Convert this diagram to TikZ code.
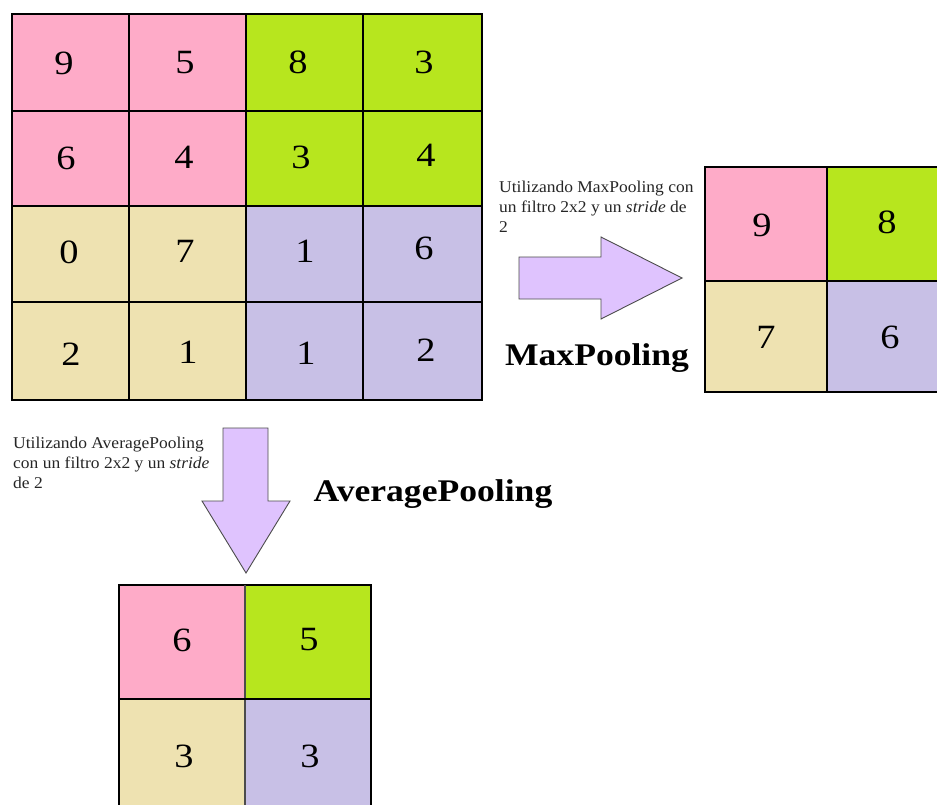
\documentclass[tikz,border=0pt]{standalone}
\usepackage{fontspec}
\setmainfont[FakeStretch=1.13]{Liberation Serif}
\newfontfamily\notefont[FakeStretch=1.06]{Liberation Serif}
\begin{document}
\begin{tikzpicture}[x=1pt,y=-1pt,
  num/.style={font=\fontsize{34}{34}\selectfont, inner sep=0pt},
  note/.style={font=\notefont\fontsize{16.5}{19.8}\selectfont, align=left, anchor=north west, inner sep=0pt, text=black!85},
  title/.style={font=\fontsize{31.5}{31.5}\selectfont\bfseries, inner sep=0pt},
  bigarrow/.style={fill=arrowfill, draw=black!70, line width=0.9pt, line join=miter}]
\definecolor{cpink}{HTML}{FEABC8}
\definecolor{cgreen}{HTML}{B7E61E}
\definecolor{ctan}{HTML}{EEE2B1}
\definecolor{clav}{HTML}{C8C0E6}
\definecolor{arrowfill}{HTML}{DFC3FE}
\useasboundingbox (0,0) rectangle (937,805);
\fill[white] (0,0) rectangle (937,805);

% ---- input feature map 4x4 ----
\fill[cpink]  (12,14)  rectangle (246,206);
\fill[cgreen] (246,14) rectangle (482,206);
\fill[ctan]   (12,206) rectangle (246,400);
\fill[clav]   (246,206) rectangle (482,400);
\draw[line width=2.2pt] (12,14) rectangle (482,400);
\foreach \x in {129,246,363} \draw[line width=2pt] (\x,14) -- (\x,400);
\foreach \y in {111,206,302} \draw[line width=2pt] (12,\y) -- (482,\y);

\node[num] (a11) at (64,63)  {9};
\node[num] (a12) at (185,63) {5};
\node[num] (a13) at (298,62) {8};
\node[num] (a14) at (424,62) {3};
\node[num] (a21) at (66,158) {6};
\node[num] (a22) at (184,157){4};
\node[num] (a23) at (301,157){3};
\node[num] (a24) at (426,155){4};
\node[num] (a31) at (69,252) {0};
\node[num] (a32) at (185,251){7};
\node[num] (a33) at (305,251){1};
\node[num] (a34) at (424,248){6};
\node[num] (a41) at (71,354) {2};
\node[num] (a42) at (188,352){1};
\node[num] (a43) at (306,353){1};
\node[num] (a44) at (426,350){2};

% ---- max pooling result ----
\fill[cpink]  (705,167) rectangle (827,281);
\fill[cgreen] (827,167) rectangle (945,281);
\fill[ctan]   (705,281) rectangle (827,392);
\fill[clav]   (827,281) rectangle (945,392);
\draw[line width=1.8pt] (945,167) -- (705,167) -- (705,392) -- (945,392);
\draw[line width=1.8pt] (827,167) -- (827,392);
\draw[line width=1.8pt] (705,281) -- (945,281);
\node[num] (m11) at (762,225) {9};
\node[num] (m12) at (887,222) {8};
\node[num] (m21) at (766,337) {7};
\node[num] (m22) at (890,337) {6};

% ---- average pooling result ----
\fill[cpink]  (119,585) rectangle (245,699);
\fill[cgreen] (245,585) rectangle (371,699);
\fill[ctan]   (119,699) rectangle (245,810);
\fill[clav]   (245,699) rectangle (371,810);
\draw[line width=1.6pt] (119,810) -- (119,585) -- (371,585) -- (371,810);
\draw[line width=1.2pt, black!70] (245,585) -- (245,810);
\draw[line width=1.6pt] (119,699) -- (371,699);
\node[num] (p11) at (182,640) {6};
\node[num] (p12) at (309,640) {5};
\node[num] (p21) at (184,756) {3};
\node[num] (p22) at (310,756) {3};

% ---- arrows ----
\draw[bigarrow] (519,257) -- (601,257) -- (601,237) -- (682,278) -- (601,319) -- (601,299) -- (519,299) -- cycle;
\draw[bigarrow] (223,428) -- (268,428) -- (268,501) -- (290,501) -- (246,573) -- (202,501) -- (223,501) -- cycle;

% ---- labels ----
\node[note] (maxnote) at (499,181) {Utilizando MaxPooling con\\un filtro 2x2 y un \textit{stride} de\\2};
\node[title] (maxtitle) at (597,358) {MaxPooling};
\node[note] (avgnote) at (13,437) {Utilizando AveragePooling\\con un filtro 2x2 y un \textit{stride}\\de 2};
\node[title] (avgtitle) at (433,494) {AveragePooling};
\end{tikzpicture}
\end{document}
